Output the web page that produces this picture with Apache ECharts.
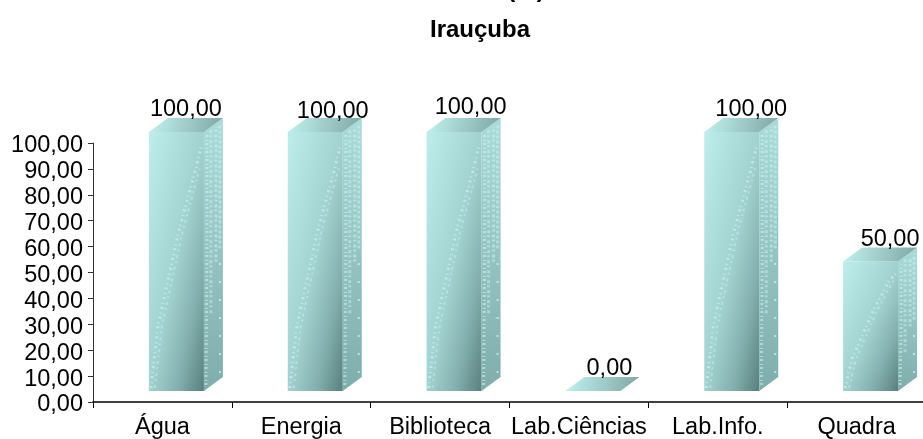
<!DOCTYPE html>
<html>
<head>
<meta charset="utf-8">
<style>
  html, body { margin: 0; padding: 0; background: #fff; }
  #chart { width: 923px; height: 439px; }
</style>
<script src="https://cdn.jsdelivr.net/npm/echarts@6/dist/echarts.min.js"></script>
</head>
<body>
<div id="chart"></div>
<script>
const categories = ["Água", "Energia", "Biblioteca", "Lab.Ciências", "Lab.Info.", "Quadra"];
const values = [100, 100, 100, 0, 100, 50];
const yTicks = [0, 10, 20, 30, 40, 50, 60, 70, 80, 90, 100];

const fmt = v => v.toFixed(2).replace(".", ",");
const font = "Liberation Sans";

// the bars sit off the axis like the old 3D chart: shifted up and right of the slot
const frontDx = -13.5;
const frontW = 55;
const liftY = 11;
const depthX = 19;
const depthY = 14;
// the data labels are not placed evenly in the original
const labelNudge = [[0, 2], [8, 4], [7, 0], [7, 2], [10, 2], [10, 2]];

function speck(points, dash, width, opacity) {
  return {
    type: "polyline",
    shape: { points: points },
    silent: true,
    style: { fill: null, stroke: "#d2f9f6", lineWidth: width, lineDash: dash, opacity: opacity }
  };
}

function renderBar(params, api) {
  const i = api.value(0);
  const v = api.value(1);
  const base = api.coord([i, 0]);
  const top = api.coord([i, v]);
  const x0 = base[0] + frontDx;
  const x1 = x0 + frontW;
  const y0 = base[1] - liftY;
  const y1 = top[1] - liftY;
  const h = y0 - y1;
  const kids = [];

  if (h > 0) {
    // shading runs across the streak, so iso-lines follow the bar diagonal
    const len = Math.sqrt(h * h + frontW * frontW);
    const ext = 2 * frontW * h / len;
    kids.push({
      type: "rect",
      shape: { x: x0, y: y1, width: frontW, height: h },
      style: {
        fill: new echarts.graphic.LinearGradient(
          x0, y1, x0 + h / len * ext, y1 + frontW / len * ext,
          [
            { offset: 0, color: "#bdeeeb" },
            { offset: 0.5, color: "#a2d2cf" },
            { offset: 0.75, color: "#84b1af" },
            { offset: 1, color: "#587f7d" }
          ],
          true
        )
      }
    });
    kids.push({
      type: "polygon",
      shape: { points: [[x1, y0], [x1 + depthX, y0 - depthY], [x1 + depthX, y1 - depthY], [x1, y1]] },
      style: {
        fill: new echarts.graphic.LinearGradient(0, 0, 0, 1, [
          { offset: 0, color: "#a9dbd8" },
          { offset: 1, color: "#7fadab" }
        ])
      }
    });
    // speckled streaks of the original texture
    kids.push(speck([[x0 + 2, y0 - 3], [x0 + 9, y0 - h * 0.25], [x0 + 30, y0 - h * 0.62], [x1 - 8, y0 - h * 0.86], [x1 - 2, y1 + 12]], [2, 3, 1, 4], 3, 0.6));
    kids.push(speck([[x0 + 6, y0 - 3], [x0 + 13, y0 - h * 0.25], [x0 + 34, y0 - h * 0.62], [x1 - 4, y0 - h * 0.86]], [3, 4, 2, 3], 2, 0.4));
    kids.push(speck([[x1 + 2, y0 - 6], [x1 + 3, y0 - h * 0.5], [x1 + 3, y1 + 3]], [2, 2, 1, 3], 3, 0.55));
    kids.push(speck([[x1 + 7, y0 - h * 0.3], [x1 + 7, y1 - 3]], [3, 3, 2, 2], 3, 0.45));
    kids.push(speck([[x1 + 12, y0 - h * 0.5], [x1 + 12, y1 - 5]], [2, 2, 3, 3], 3, 0.5));
    kids.push(speck([[x1 + 16, y0 - 18], [x1 + 16, y0 - h * 0.55]], [2, 16], 2, 0.7));
    kids.push(speck([[x1 + 16, y0 - h * 0.55], [x1 + 16, y1 - 8]], [3, 2], 3, 0.45));
  }
  kids.push({
    type: "polygon",
    shape: { points: [[x0, y1], [x1, y1], [x1 + depthX, y1 - depthY], [x0 + depthX, y1 - depthY]] },
    style: {
      fill: new echarts.graphic.LinearGradient(0, 0, 1, 1, [
        { offset: 0, color: "#c0f2ef" },
        { offset: 1, color: "#7fa6a4" }
      ])
    }
  });
  kids.push({
    type: "text",
    style: {
      x: x0 + (frontW + depthX) / 2 + labelNudge[i][0],
      y: y1 - depthY - 10 + labelNudge[i][1],
      text: fmt(v),
      fill: "#000",
      font: "23.5px '" + font + "'",
      align: "center",
      verticalAlign: "middle"
    }
  });
  return { type: "group", children: kids };
}

const chart = echarts.init(document.getElementById("chart"), null, { renderer: "canvas" });
chart.setOption({
  animation: false,
  backgroundColor: "#fff",
  title: {
    text: "Irauçuba",
    left: 475,
    top: 13,
    textAlign: "center",
    textStyle: { fontFamily: font, fontSize: 24, fontWeight: "bold", color: "#000" }
  },
  // only the bottom of the first title line is left inside the picture
  graphic: [{
    type: "text",
    x: 526,
    y: 2,
    style: { text: "(%)", fill: "#000", font: "bold 24px '" + font + "'", align: "center", verticalAlign: "bottom" }
  }],
  // the last slot runs just past the picture edge, as in the original
  grid: { left: 93, width: 833, top: 143, height: 259, containLabel: false, outerBoundsMode: "none" },
  xAxis: {
    type: "category",
    data: categories,
    axisLine: { lineStyle: { color: "#000", width: 1.5 } },
    axisTick: { show: true, alignWithLabel: false, length: 6, lineStyle: { color: "#000" } },
    axisLabel: { fontFamily: font, fontSize: 23.5, color: "#000", margin: 14, interval: 0 }
  },
  yAxis: {
    type: "value",
    min: yTicks[0],
    max: yTicks[yTicks.length - 1],
    interval: 10,
    splitLine: { show: false },
    axisLine: { show: true, lineStyle: { color: "#333" } },
    axisTick: { show: true, length: 5, lineStyle: { color: "#333" } },
    axisLabel: {
      color: "#000",
      margin: 10,
      formatter: v => "{t|" + fmt(v) + "}",
      rich: { t: { fontFamily: font, fontSize: 23.5, color: "#000", padding: [6, 0, 0, 0] } }
    }
  },
  series: [{
    type: "custom",
    clip: false,
    renderItem: renderBar,
    encode: { x: 0, y: 1 },
    data: values.map((v, i) => [i, v])
  }]
});
</script>
</body>
</html>
